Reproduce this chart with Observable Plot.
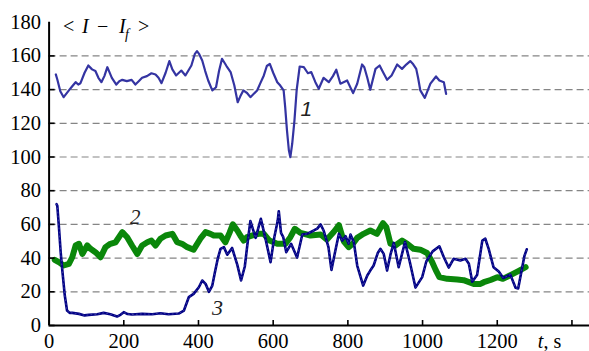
<!DOCTYPE html>
<html><head><meta charset="utf-8">
<script src="https://cdn.jsdelivr.net/npm/d3@7"></script>
<script src="https://cdn.jsdelivr.net/npm/@observablehq/plot@0.6"></script>
<style>body{margin:0;background:#fff} #chart svg{display:block}</style>
</head><body><div id="chart"></div>
<script>
// Series 1: <I - I_f>, curve 1 (time s, value)
const series1 = [[18,149],[22,146],[30,139],[39,135.5],[53,139.5],[62,142],[71,144.4],[78,143],[84,143.8],[95,150],[105,154.3],[115,152],[124,151],[132,147],[140,144.4],[148,148],[156,153.3],[168,147],[180,143],[188,145],[196,145.8],[208,145],[221,145.8],[231,143],[240,145],[249,147],[262,148],[274,149.7],[285,149],[293,147],[301,143.8],[312,150],[322,156.9],[330,152],[340,148.4],[354,151.3],[365,148.4],[381,154.3],[390,161],[396,162.8],[402,161],[410,157.3],[418,151],[426,145.4],[437,139.5],[447,141.4],[455,151],[463,158.3],[475,154],[486,150.4],[496,142.4],[505,132.5],[512,136],[520,139.5],[530,138],[539,135.5],[557,139.5],[566,144],[575,148.4],[583,154],[591,155.3],[600,150],[611,144.4],[619,142.4],[628,139.5],[632,130],[637,115.7],[642,104],[646,99.9],[651,108],[657,121.7],[663,140],[671,153.7],[682,153.3],[693,149.7],[702,150.4],[713,144.4],[722,140.5],[735,147],[749,144.4],[760,148],[769,151.8],[780,143.5],[798,145.4],[814,137.9],[825,143.5],[838,154.9],[844,153.3],[852,147],[860,139.9],[874,152.3],[885,154.3],[895,150],[905,145.8],[917,148.4],[932,154.9],[945,152.3],[957,155],[967,156.9],[975,155],[983,152.3],[988,147],[994,139.5],[1006,135.1],[1021,143.5],[1036,147.8],[1045,145.4],[1057,144.4],[1063,137.5]];
// Series 2: curve 2 (green)
const series2 = [[15,39],[26,37.6],[39,35.6],[53,36.6],[62,40.5],[71,47.5],[80,48.5],[89,42.5],[102,47.5],[111,45.5],[124,43.5],[138,40.5],[151,46.5],[164,48.5],[178,49.4],[196,55.4],[209,52.4],[222,47.5],[236,42.5],[249,47.5],[263,49.4],[274,50.4],[285,47.5],[298,51.5],[312,53.4],[330,54.4],[343,49.4],[356,48.5],[370,46.5],[387,45],[405,51.5],[419,55.4],[432,54.4],[441,53.4],[459,53.4],[472,49.4],[483,55],[492,60],[504,56.4],[512,53.4],[521,50.4],[530,52.5],[545,53.5],[561,54.4],[575,54.4],[590,50.4],[611,48.5],[633,48.5],[646,52.4],[658,57.4],[673,55],[700,53.4],[727,54],[744,51],[762,55.5],[776,59.5],[789,50],[802,46.5],[815,49],[825,52],[842,54.4],[860,56.4],[878,54.4],[894,60.7],[903,58.3],[914,48.5],[927,47.5],[945,50.4],[959,48.5],[976,45.5],[994,45],[1012,43],[1025,38],[1035,33],[1045,28.7],[1066,27.7],[1093,27.3],[1110,26.9],[1137,24.7],[1155,24.7],[1164,25.7],[1182,27],[1200,28.7],[1215,27.7],[1238,30.2],[1259,32.6],[1276,34.6]];
// Series 3: curve 3 (navy)
const series3 = [[20,72],[22,71],[26,59.4],[31,43.5],[35,33.6],[42,17.8],[48,8.9],[55,7.5],[62,7.5],[80,6.9],[95,6],[106,6.3],[129,6.7],[146,7.5],[164,6.7],[182,5.3],[192,6.5],[200,7.9],[210,6.8],[222,6.5],[249,6.9],[276,6.7],[298,7.3],[320,6.7],[347,7.1],[361,8.9],[374,16.8],[387,18.8],[401,22.7],[410,26.7],[419,24.7],[428,20],[437,23.7],[444,31.6],[452,40],[459,45.5],[468,46.5],[477,42],[490,46],[504,36],[514,26.7],[524,35],[532,50],[539,62],[553,52],[567,63.3],[579,52],[593,37.6],[603,52.4],[612,62],[615,67.8],[621,55],[627,52.4],[635,43.5],[648,48.5],[664,40.3],[678,54],[691,54.4],[709,56.4],[718,57.5],[727,60],[735,56.4],[743,50.4],[748,46.5],[756,33],[767,45],[776,54.4],[785,50.4],[794,53],[802,48.5],[807,54],[816,49.4],[825,35.6],[841,23.7],[852,29.7],[860,32.6],[869,35.6],[880,43],[887,45.5],[896,42.5],[905,32.6],[914,42],[923,49],[936,34.6],[953,49.5],[965,38.6],[981,22.5],[999,28.7],[1010,38],[1027,44],[1045,47],[1057,40.5],[1070,34.4],[1083,39.6],[1101,38.6],[1115,39.6],[1124,36.6],[1133,26],[1146,30],[1160,50.4],[1168,51.5],[1177,45.5],[1190,34.6],[1204,32],[1216,28.2],[1235,30.2],[1249,22.4],[1256,22],[1266,33.5],[1273,41.5],[1279,45.2]];

const xTicks = [0,200,400,600,800,1000,1200,1400];
const xTickLabels = [0,200,400,600,800,1000,1200];
const yTicks = [0,20,40,60,80,100,120,140,160,180];
const gridY = [20,40,60,80,100,120,140,160];
const curveLabels = [
  {t: 689, v: 124.6, text: "1", font: "'Liberation Sans', Arial, sans-serif", size: 21},
  {t: 231, v: 60.5, text: "2", font: "'Liberation Serif', 'DejaVu Serif', serif", size: 21},
  {t: 451, v: 6.5, text: "3", font: "'Liberation Serif', 'DejaVu Serif', serif", size: 22}
];
const unitLabel = {t: 1310, v: -13.4};
const titlePos = {t: 38.5, v: 173.3};

const W = 589, H = 351, ML = 48.6, MR = 0, MT = 21.7, MB = 26;
const frameW = W - ML - MR, frameH = H - MT - MB;
const serif = "'Liberation Serif', 'DejaVu Serif', serif";

const plot = Plot.plot({
  width: W, height: H,
  marginLeft: ML, marginRight: MR, marginTop: MT, marginBottom: MB,
  x: {domain: [0, 1447]},
  y: {domain: [0, 180]},
  style: `font-family: ${serif}; background: white; color: black;`,
  marks: [
    Plot.ruleY(gridY, {stroke: "#858585", strokeWidth: 1.2, strokeDasharray: "7,4"}),
    Plot.line(series2, {x: d => d[0], y: d => d[1], stroke: "#0a870a", strokeWidth: 6, strokeLinejoin: "round"}),
    Plot.line(series1, {x: d => d[0], y: d => d[1], stroke: "#3434a2", strokeWidth: 2.2, strokeLinejoin: "round"}),
    Plot.line(series3, {x: d => d[0], y: d => d[1], stroke: "#000085", strokeWidth: 2.6, strokeLinejoin: "round"}),
    Plot.line(series3, {x: d => d[0], y: d => d[1], stroke: "#7a7ac0", strokeWidth: 0.8, strokeDasharray: "1,3", strokeOpacity: 0.6}),
    Plot.ruleY([0], {stroke: "black", strokeWidth: 2}),
    Plot.ruleX([0], {stroke: "black", strokeWidth: 2}),
    Plot.tickX(xTicks, {x: d => d, insetTop: frameH - 5, stroke: "black", strokeWidth: 1.6}),
    Plot.tickY(yTicks.slice(0, -1), {y: d => d, insetRight: frameW - 6, stroke: "black", strokeWidth: 1.6}),
    Plot.axisX(xTickLabels, {tickSize: 0, tickPadding: 8, fontSize: 20.5, label: null, tickFormat: d => String(d), fontFamily: serif}),
    Plot.axisY(yTicks, {tickSize: 0, tickPadding: 8, fontSize: 20.5, label: null, tickFormat: d => String(d), fontFamily: serif}),
    ...curveLabels.map(l => Plot.text([l], {x: "t", y: "v", text: "text", fontFamily: l.font, fontSize: l.size, fontStyle: "italic", lineAnchor: "bottom", fill: "#222"}))
  ]
});

const svg = d3.select(plot);
const sx = plot.scale("x"), sy = plot.scale("y");
const tx = sx.apply(titlePos.t), ty = sy.apply(titlePos.v);
const title = svg.append("text").attr("x", tx).attr("y", ty).style("font-family", serif).attr("font-size", 20).attr("fill", "black").attr("text-anchor", "start");
title.append("tspan").attr("x", tx).text("<");
title.append("tspan").attr("x", tx + 19).style("font-style", "italic").text("I");
title.append("tspan").attr("x", tx + 34).text("\u2212");
title.append("tspan").attr("x", tx + 56).style("font-style", "italic").text("I");
title.append("tspan").attr("x", tx + 62).attr("dy", 6).style("font-style", "italic").attr("font-size", 14).text("f");
title.append("tspan").attr("x", tx + 75).attr("dy", -6).text(">");

const ux = sx.apply(unitLabel.t), uy = sy.apply(unitLabel.v);
const unit = svg.append("text").attr("x", ux).attr("y", uy).style("font-family", serif).attr("font-size", 20).attr("fill", "black").attr("text-anchor", "start");
unit.append("tspan").style("font-style", "italic").text("t");
unit.append("tspan").text(", s");

document.getElementById("chart").appendChild(plot);
</script>
</body></html>
